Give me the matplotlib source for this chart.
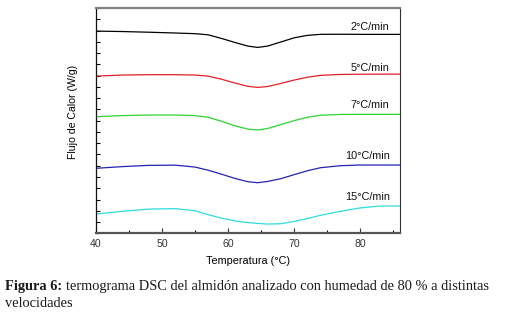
import matplotlib
import matplotlib.pyplot as plt
from matplotlib.ticker import MultipleLocator, NullFormatter

matplotlib.use("Agg")

# Data (heat flow in arbitrary stacked units)
temperatura = [40, 44, 48, 52, 55, 57, 59, 61, 63, 64.5, 66, 68, 70, 72, 74, 77, 80, 83, 86]
flujo_2 = [17.95, 17.91, 17.85, 17.78, 17.72, 17.62, 17.30, 16.95, 16.62, 16.50,
           16.62, 16.98, 17.35, 17.57, 17.66, 17.67, 17.66, 17.66, 17.66]
flujo_5 = [13.95, 14.05, 14.08, 14.08, 14.05, 13.95, 13.68, 13.35, 13.05, 12.95,
           13.03, 13.30, 13.60, 13.85, 14.02, 14.10, 14.12, 14.13, 14.13]
flujo_7 = [10.35, 10.45, 10.50, 10.50, 10.45, 10.30, 9.95, 9.55, 9.25, 9.17,
           9.30, 9.65, 10.00, 10.30, 10.48, 10.55, 10.56, 10.56, 10.56]
flujo_10 = [5.77, 5.92, 6.03, 6.05, 5.88, 5.60, 5.25, 4.88, 4.58, 4.49,
            4.60, 4.85, 5.20, 5.55, 5.82, 6.00, 6.06, 6.06, 6.06]
flujo_15 = [1.71, 1.95, 2.15, 2.19, 2.00, 1.65, 1.35, 1.10, 0.95, 0.88,
            0.82, 0.85, 1.05, 1.30, 1.60, 1.95, 2.25, 2.42, 2.42]

etiquetas = ["2°C/min", "5°C/min", "7°C/min", "10°C/min", "15°C/min"]
etiqueta_y = [18.33, 14.64, 11.36, 6.86, 3.22]
colores = ["#000000", "#e0202a", "#2fd22f", "#2424b0", "#2fdcdc"]

plt.rcParams.update({"font.family": ["Liberation Sans", "DejaVu Sans"]})

fig = plt.figure(figsize=(5.06, 3.25), dpi=100)
ax = fig.add_axes([96 / 506, 1 - 233.3 / 325, 304 / 506, 225.3 / 325])

series = [flujo_2, flujo_5, flujo_7, flujo_10, flujo_15]
for y, c, lab, ly in zip(series, colores, etiquetas, etiqueta_y):
    ax.plot(temperatura, y, color=c, linewidth=0.9)
    ax.text(84.5, ly, lab, color="#111111", fontsize=7.8, ha="right", va="center")

ax.set_xlim(40, 86.06)
ax.set_ylim(0, 20)

ax.xaxis.set_major_locator(MultipleLocator(10))
ax.xaxis.set_minor_locator(MultipleLocator(5))
ax.yaxis.set_major_locator(MultipleLocator(1))
ax.yaxis.set_major_formatter(NullFormatter())
ax.tick_params(axis="x", which="major", direction="in", length=3.5, width=0.8,
               labelsize=7.6, pad=4, colors="#333333")
ax.tick_params(axis="x", which="minor", direction="in", length=2.5, width=0.8)
ax.tick_params(axis="y", which="major", direction="in", length=3, width=0.8)

ax.spines["top"].set_color("#808080")
ax.spines["top"].set_linewidth(1.6)
ax.spines["bottom"].set_color("#555555")
ax.spines["bottom"].set_linewidth(1.6)
ax.spines["left"].set_color("#111111")
ax.spines["left"].set_linewidth(0.9)
ax.spines["right"].set_color("#333333")
ax.spines["right"].set_linewidth(0.8)

ax.set_xlabel("Temperatura (°C)", fontsize=7.8, labelpad=5)
fig.text(73 / 506, 1 - 112 / 325, "Flujo de Calor (W/g)", rotation=90,
         fontsize=7.6, ha="center", va="center")

# caption
cap = fig.text(5 / 506, 1 - 293 / 325, "Figura 6:", family="Liberation Serif",
               fontweight="bold", fontsize=10.4, ha="left", va="bottom", color="#1a1a1a")
fig.text(5 / 506, 1 - 310 / 325, "velocidades", family="Liberation Serif",
         fontsize=10.4, ha="left", va="bottom", color="#1a1a1a")
ax.annotate("termograma DSC del almidón analizado con humedad de 80 % a distintas",
            xy=(1, 0), xycoords=cap, xytext=(3, 0), textcoords="offset points",
            family="Liberation Serif", fontsize=10.4, ha="left", va="bottom",
            color="#1a1a1a", annotation_clip=False)

fig.savefig("out.png", dpi=100)
